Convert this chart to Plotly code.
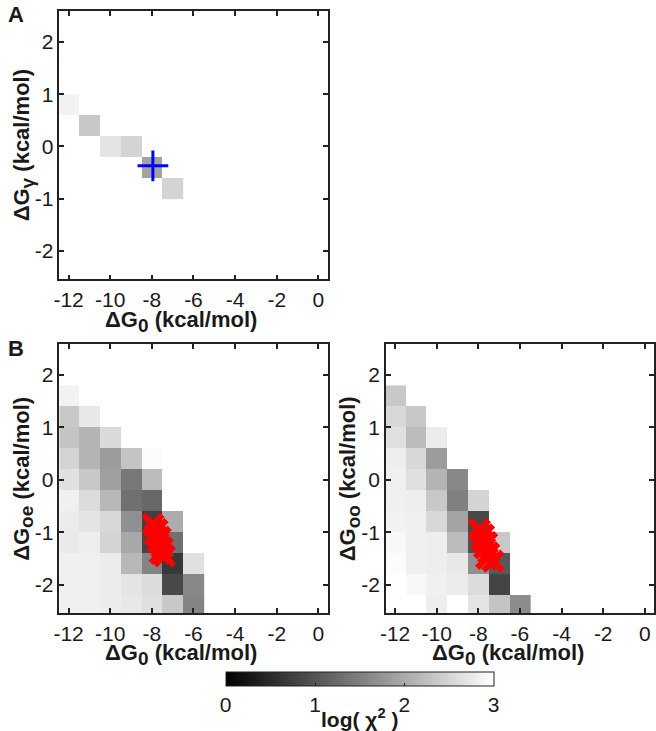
import plotly.graph_objects as go

# ---------------- data ----------------
x_ticks = [-12, -10, -8, -6, -4, -2, 0]
x_tick_text = ["-12", "-10", "-8", "-6", "-4", "-2", "0"]
y_ticks = [-2, -1, 0, 1, 2]
y_tick_text = ["-2", "-1", "0", "1", "2"]
cbar_ticks = [0, 1, 2, 3]

# Panel A : dG0 vs dGgamma, log(chi^2)
gamma_x = [-12, -11, -10, -9, -8, -7]
gamma_y = [0.8, 0.4, 0.0, -0.4, -0.8]
gamma_z = [
    [2.85, None, None, None, None, None],
    [None, 2.35, None, None, None, None],
    [None, None, 2.68, 2.49, None, None],
    [None, None, None, None, 1.90, None],
    [None, None, None, None, None, 2.49],
]
gamma_best_x = [-7.95]
gamma_best_y = [-0.37]

# Panel B : grid shared by both maps
grid_x = [-12, -11, -10, -9, -8, -7, -6]
grid_y = [1.6, 1.2, 0.8, 0.4, 0.0, -0.4, -0.8, -1.2, -1.6, -2.0, -2.4]

goe_z = [
    [2.85, None, None, None, None, None, None],
    [2.35, 2.73, None, None, None, None, None],
    [2.31, 2.12, 2.56, None, None, None, None],
    [2.49, 2.12, 1.84, 2.31, 2.96, None, None],
    [2.64, 2.35, 1.88, 1.41, 2.21, None, None],
    [2.82, 2.59, 2.16, 1.32, 1.22, None, None],
    [2.78, 2.68, 2.54, 1.69, 0.75, 2.02, None],
    [2.75, 2.80, 2.49, 1.98, 0.80, 1.32, None],
    [2.82, 2.82, 2.78, 2.16, 1.55, 0.66, 2.64],
    [2.82, 2.82, 2.78, 2.68, 2.59, 0.85, 1.60],
    [2.82, 2.82, 2.78, 2.73, 2.64, 2.35, 1.55],
]
goo_z = [
    [2.35, None, None, None, None, None, None],
    [2.54, 2.35, None, None, None, None, None],
    [2.64, 2.21, 2.78, None, None, None, None],
    [2.80, 2.54, 1.84, None, None, None, None],
    [2.82, 2.64, 2.12, 1.60, None, None, None],
    [2.82, 2.80, 2.35, 1.51, 2.49, None, None],
    [2.85, 2.82, 2.54, 1.93, 0.85, None, None],
    [2.92, 2.82, 2.80, 2.21, 0.94, 2.35, None],
    [2.97, 2.82, 2.80, 2.73, 1.69, 1.04, None],
    [3.00, 2.92, 2.82, 2.78, 2.59, 0.80, None],
    [3.00, 3.00, 2.80, 3.00, 2.68, 2.31, 1.65],
]

# best fits (red crosses)
goe_fit_x = [-7.95, -7.75, -7.85, -7.60, -7.70, -7.50, -7.60, -7.40]
goe_fit_y = [-0.85, -0.95, -1.05, -1.10, -1.20, -1.30, -1.40, -1.45]
goo_fit_x = [-7.95, -7.75, -7.85, -7.60, -7.70, -7.50, -7.60, -7.30]
goo_fit_y = [-0.95, -1.05, -1.15, -1.20, -1.30, -1.40, -1.50, -1.55]

# ---------------- figure ----------------
W, H = 656, 731
FONT = "Liberation Sans, Arial, Helvetica, sans-serif"
TXT = "#1a1a1a"
TICK_SIZE = 21
TITLE_SIZE = 22
gray = [[0, "#000000"], [1, "#ffffff"]]

fig = go.Figure()

fig.add_trace(go.Heatmap(x=gamma_x, y=gamma_y, z=gamma_z, colorscale=gray,
                         zmin=0, zmax=3, showscale=False,
                         xaxis="x", yaxis="y", hoverongaps=False))
fig.add_trace(go.Scatter(x=gamma_best_x, y=gamma_best_y, mode="markers",
                         marker=dict(symbol="cross-thin", size=22, color="#0000ff",
                                     line=dict(color="#0000ff", width=3)),
                         xaxis="x", yaxis="y", showlegend=False))

fig.add_trace(go.Heatmap(x=grid_x, y=grid_y, z=goe_z, colorscale=gray,
                         zmin=0, zmax=3, showscale=True,
                         xaxis="x2", yaxis="y2", hoverongaps=False,
                         colorbar=dict(orientation="h", x=357.5 / W, xanchor="center",
                                       y=1 - 672 / H, yanchor="top",
                                       len=271 / W, lenmode="fraction",
                                       thickness=14, thicknessmode="pixels",
                                       xpad=0, ypad=0,
                                       outlinecolor="#222", outlinewidth=1,
                                       tickvals=cbar_ticks, ticks="inside",
                                       ticklen=3, tickcolor="#222",
                                       tickfont=dict(family=FONT, size=TICK_SIZE, color=TXT))))
fig.add_trace(go.Scatter(x=goe_fit_x, y=goe_fit_y, mode="markers",
                         marker=dict(symbol="x-thin", size=19, color="#ff0000",
                                     line=dict(color="#ff0000", width=6)),
                         xaxis="x2", yaxis="y2", showlegend=False))

fig.add_trace(go.Heatmap(x=grid_x, y=grid_y, z=goo_z, colorscale=gray,
                         zmin=0, zmax=3, showscale=False,
                         xaxis="x3", yaxis="y3", hoverongaps=False))
fig.add_trace(go.Scatter(x=goo_fit_x, y=goo_fit_y, mode="markers",
                         marker=dict(symbol="x-thin", size=19, color="#ff0000",
                                     line=dict(color="#ff0000", width=6)),
                         xaxis="x3", yaxis="y3", showlegend=False))

ax = dict(showline=True, linecolor="#222", linewidth=1.5, mirror="ticks",
          ticks="inside", ticklen=5, tickwidth=1.5, tickcolor="#222",
          showgrid=False, zeroline=False,
          tickfont=dict(family=FONT, size=TICK_SIZE, color=TXT))

xr = [-12.44, 0.44]
yr = [-2.54, 2.59]
dx_left = [54 / W, 325 / W]
dx_right = [384 / W, 655 / W]
dy_top = [1 - 279.3 / H, 1 - 11 / H]
dy_bot = [1 - 613 / H, 1 - 344 / H]

for name, dom, anchor in [("xaxis", dx_left, "y"), ("xaxis2", dx_left, "y2"), ("xaxis3", dx_right, "y3")]:
    fig.layout[name] = dict(ax, domain=dom, anchor=anchor, range=xr,
                            tickvals=x_ticks, ticktext=x_tick_text,
                            ticklabelstandoff=1)
for name, dom, anchor in [("yaxis", dy_top, "x"), ("yaxis2", dy_bot, "x2"), ("yaxis3", dy_bot, "x3")]:
    fig.layout[name] = dict(ax, domain=dom, anchor=anchor, range=yr,
                            tickvals=y_ticks, ticktext=y_tick_text)

def ann(text, xpx, ypx, size=TITLE_SIZE, angle=0, yanchor="middle"):
    return dict(text=text, x=xpx / W, y=1 - ypx / H, xref="paper", yref="paper",
                showarrow=False, textangle=angle, xanchor="center", yanchor=yanchor,
                font=dict(family=FONT, size=size, color=TXT))

def sub(s):
    return "<sub><span style='font-size:%dpx'>%s</span></sub>" % (int(TITLE_SIZE * 0.9), s)

annotations = [
    ann("<b>A</b>", 10, 14, size=22),
    ann("<b>B</b>", 10, 348, size=22),
    ann("<b>ΔG" + sub("γ") + " (kcal/mol)</b>", 17.5, 145, angle=-90),
    ann("<b>ΔG" + sub("oe") + " (kcal/mol)</b>", 17.5, 478.5, angle=-90),
    ann("<b>ΔG" + sub("oo") + " (kcal/mol)</b>", 347.5, 478.5, angle=-90),
    ann("<b>ΔG" + sub("0") + " (kcal/mol)</b>", 177, 321),
    ann("<b>ΔG" + sub("0") + " (kcal/mol)</b>", 177, 654),
    ann("<b>ΔG" + sub("0") + " (kcal/mol)</b>", 507, 654),
    ann("<b>log( χ<sup>2</sup> )</b>", 357.5, 733, size=21, yanchor="bottom"),
]

fig.update_layout(width=W, height=H, margin=dict(l=0, r=0, t=0, b=0),
                  paper_bgcolor="white", plot_bgcolor="white",
                  showlegend=False, annotations=annotations,
                  font=dict(family=FONT, color=TXT))

# remove the browser's default page margin so the figure fills the window exactly
fig.write_html("out.html",
               config={"displayModeBar": False},
               post_script="document.body.style.margin='0';document.body.style.padding='0';"
                           "document.documentElement.style.overflow='hidden';")
